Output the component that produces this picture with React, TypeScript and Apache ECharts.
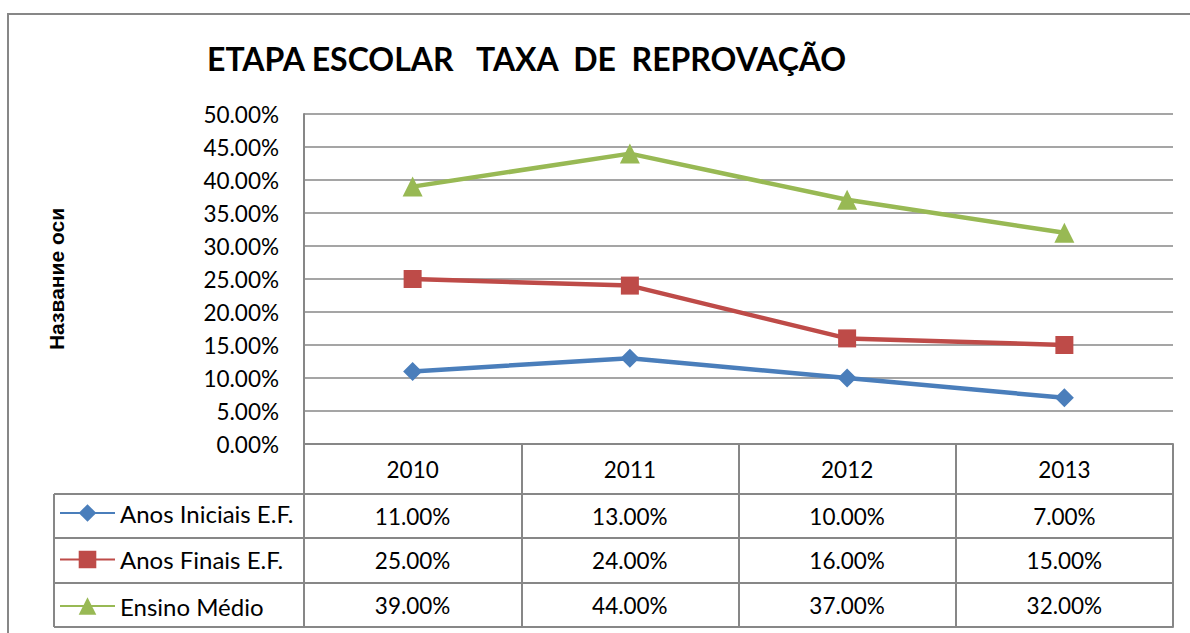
import React, { useEffect, useRef } from 'react';
import * as echarts from 'echarts';

const years = ['2010', '2011', '2012', '2013'];
const seriesNames = ['Anos Iniciais E.F.', 'Anos Finais E.F.', 'Ensino Médio'];
const anosIniciais = [0.11, 0.13, 0.10, 0.07];
const anosFinais = [0.25, 0.24, 0.16, 0.15];
const ensinoMedio = [0.39, 0.44, 0.37, 0.32];
const yTicks = { min: 0, max: 0.5, interval: 0.05 };
const titleText = 'ETAPA ESCOLAR   TAXA  DE  REPROVAÇÃO';
const yAxisTitle = 'Название оси';

const colors = ['#4A7EBB', '#BE4B48', '#98B954'];
const symbols = ['diamond', 'rect', 'triangle'];
const symbolSizes = [19, 18, 20];
const GRID = '#878787';
const FONT = 'Lato';

const pct = (v: number) => (v * 100).toFixed(2) + '%';

export default function App() {
  const ref = useRef<HTMLDivElement>(null);
  useEffect(() => {
    if (!ref.current) return;
    const chart = echarts.init(ref.current, null, { renderer: 'svg' });
    const rows = [anosIniciais, anosFinais, ensinoMedio];
    const rowOffsets = [50, 94, 139];
    const rowMargins = [22, 22.5, 22];
    const labelStyle = { fontSize: 22.5, color: '#000', fontFamily: FONT };

    const rowAxes = rows.map((r, i) => ({
      type: 'category',
      data: years,
      position: 'bottom',
      offset: rowOffsets[i],
      boundaryGap: true,
      axisLine: { show: true, lineStyle: { color: GRID, width: 2 } },
      axisTick: { show: false },
      axisLabel: {
        ...labelStyle,
        interval: 0,
        margin: rowMargins[i],
        verticalAlign: 'middle',
        formatter: (_v: string, idx: number) => pct(r[idx]),
      },
    }));

    const legendLines: any[] = [494, 538, 583, 627].map((y) => ({
      type: 'line',
      shape: { x1: 54, y1: y, x2: 304, y2: y },
      style: { stroke: GRID, lineWidth: 2 },
    }));
    legendLines.push({
      type: 'line',
      shape: { x1: 54, y1: 494, x2: 54, y2: 627 },
      style: { stroke: GRID, lineWidth: 2 },
    });

    chart.setOption({
      animation: false,
      backgroundColor: '#fff',
      title: {
        text: titleText,
        left: 207,
        top: 42,
        padding: 0,
        textStyle: { fontSize: 32, fontWeight: 'bold', fontFamily: FONT, color: '#000' },
      },
      legend: {
        orient: 'vertical',
        left: 59,
        top: 501,
        itemWidth: 55,
        itemHeight: 22,
        itemGap: 22.5,
        padding: 0,
        data: seriesNames,
        textStyle: { ...labelStyle, fontSize: 24, lineHeight: 22 },
      },
      grid: { left: 304, right: 17, top: 114, height: 330 },
      xAxis: [
        {
          type: 'category',
          data: years,
          boundaryGap: true,
          axisLine: { show: true, lineStyle: { color: GRID, width: 2 } },
          axisTick: { show: true, interval: 0, length: 183, lineStyle: { color: GRID, width: 2 } },
          axisLabel: { ...labelStyle, interval: 0, margin: 25, verticalAlign: 'middle' },
        },
        ...rowAxes,
        {
          type: 'category',
          data: years,
          position: 'bottom',
          offset: 183,
          axisLine: { show: true, lineStyle: { color: GRID, width: 2 } },
          axisTick: { show: false },
          axisLabel: { show: false },
        },
      ],
      yAxis: {
        type: 'value',
        ...yTicks,
        axisLine: { show: true, lineStyle: { color: GRID, width: 2 } },
        axisTick: { show: false },
        splitLine: { lineStyle: { color: GRID, width: 1.5 } },
        axisLabel: { ...labelStyle, margin: 25, formatter: (v: number) => pct(v) },
        name: yAxisTitle,
        nameLocation: 'middle',
        nameRotate: 90,
        nameGap: 237,
        nameTextStyle: { fontWeight: 'bold', fontSize: 21, fontFamily: 'Liberation Sans', color: '#000' },
      },
      series: rows.map((r, i) => ({
        name: seriesNames[i],
        type: 'line',
        data: r,
        xAxisIndex: 0,
        yAxisIndex: 0,
        symbol: symbols[i],
        symbolSize: symbolSizes[i],
        lineStyle: { color: colors[i], width: 4.5 },
        itemStyle: { color: colors[i] },
        z: 3 + i,
      })),
      graphic: [
        {
          type: 'rect',
          shape: { x: 8, y: 14, width: 1250, height: 700 },
          style: { fill: 'none', stroke: GRID, lineWidth: 2 },
          z: 0,
        },
        ...legendLines,
      ],
    });
    return () => chart.dispose();
  }, []);
  return <div ref={ref} style={{ position: 'absolute', left: 0, top: 0, width: 1190, height: 633 }} />;
}
